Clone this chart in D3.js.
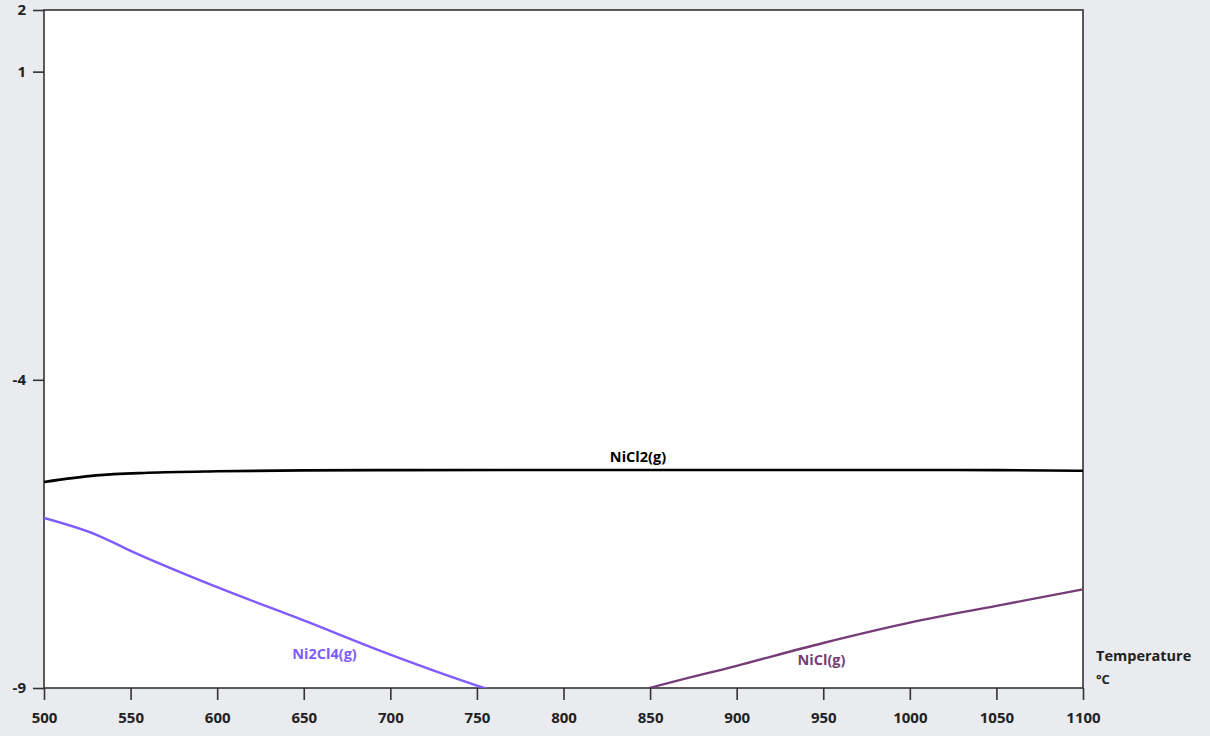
<!DOCTYPE html>
<html>
<head>
<meta charset="utf-8">
<script src="https://cdn.jsdelivr.net/npm/d3@7"></script>
<style>
  html, body { margin: 0; padding: 0; background: #e9ebef; }
  svg { display: block; font-family: "Open Sans", "Noto Sans", sans-serif; }
</style>
</head>
<body>
<svg id="chart" width="1210" height="736"></svg>
<script>
// Temperature grid (°C) and log10 partial pressures for each gas species
const nicl2Temp   = [500, 530, 560, 600, 650, 700, 800, 900, 1000, 1050, 1100];
const nicl2Value  = [-5.657, -5.55, -5.508, -5.484, -5.47, -5.465, -5.462, -5.462, -5.463, -5.465, -5.476];

const ni2cl4Temp  = [500, 530, 550, 600, 650, 700, 750, 760];
const ni2cl4Value = [-6.24, -6.51, -6.774, -7.364, -7.903, -8.459, -8.96, -9.05];

const niclTemp    = [845, 850, 900, 950, 1000, 1050, 1100];
const niclValue   = [-9.04, -9.0, -8.64, -8.27, -7.94, -7.667, -7.40];

const xTicks = [500, 550, 600, 650, 700, 750, 800, 850, 900, 950, 1000, 1050, 1100];
const yTicks = [2, 1, -4, -9];

const series = [
  { name: "NiCl2(g)",  temp: nicl2Temp,  value: nicl2Value,  color: "#000000", labelT: 843, labelV: -5.333, width: 2.6 },
  { name: "Ni2Cl4(g)", temp: ni2cl4Temp, value: ni2cl4Value, color: "#7f5cff", labelT: 662, labelV: -8.536, width: 2.4 },
  { name: "NiCl(g)",   temp: niclTemp,   value: niclValue,   color: "#763c78", labelT: 949, labelV: -8.633, width: 2.4 }
];

const svg = d3.select("#chart");
const plot = { left: 44, right: 1083, top: 10, bottom: 688 };

const x = d3.scaleLinear().domain([500, 1100]).range([plot.left, plot.right]);
const y = d3.scaleLinear().domain([-9, 2]).range([plot.bottom, plot.top]);

// plot background
svg.append("rect")
  .attr("x", plot.left).attr("y", plot.top)
  .attr("width", plot.right - plot.left).attr("height", plot.bottom - plot.top)
  .attr("fill", "#ffffff");

svg.append("defs").append("clipPath").attr("id", "plotClip")
  .append("rect")
  .attr("x", plot.left).attr("y", plot.top)
  .attr("width", plot.right - plot.left).attr("height", plot.bottom - plot.top);

// axes (plain hyphen for negatives)
const yAxis = svg.append("g")
  .attr("transform", `translate(${plot.left},0)`)
  .call(d3.axisLeft(y).tickValues(yTicks).tickSize(11).tickPadding(7).tickFormat(d => String(d)));
const xAxis = svg.append("g")
  .attr("transform", `translate(0,${plot.bottom})`)
  .call(d3.axisBottom(x).tickValues(xTicks).tickSize(12).tickPadding(12).tickFormat(d => String(d)));

[xAxis, yAxis].forEach(g => {
  g.select(".domain").remove();
  g.selectAll(".tick line").attr("stroke", "#333").attr("stroke-width", 1.6);
  g.selectAll(".tick text")
    .attr("fill", "#222")
    .style("font-size", "15px")
    .style("font-weight", "700")
    .style("font-family", "\"Open Sans\", \"Noto Sans\", sans-serif");
});

// plot frame
svg.append("rect")
  .attr("x", plot.left).attr("y", plot.top)
  .attr("width", plot.right - plot.left).attr("height", plot.bottom - plot.top)
  .attr("fill", "none").attr("stroke", "#333").attr("stroke-width", 1.6);

// species curves
const line = d3.line().x(d => x(d[0])).y(d => y(d[1])).curve(d3.curveMonotoneX);
const curves = svg.append("g").attr("clip-path", "url(#plotClip)");
series.forEach(s => {
  curves.append("path")
    .datum(s.temp.map((t, i) => [t, s.value[i]]))
    .attr("d", line)
    .attr("fill", "none")
    .attr("stroke", s.color)
    .attr("stroke-width", s.width)
    .attr("stroke-linejoin", "round");
});

// curve labels
series.forEach(s => {
  svg.append("text")
    .attr("x", x(s.labelT)).attr("y", y(s.labelV))
    .attr("text-anchor", "middle")
    .attr("fill", s.color)
    .style("font-size", "14.5px")
    .style("font-weight", "700")
    .text(s.name);
});

// x axis title
svg.append("text")
  .attr("x", 1096).attr("y", 661)
  .attr("fill", "#222")
  .style("font-size", "14.5px").style("font-weight", "700")
  .text("Temperature");
svg.append("text")
  .attr("x", 1096).attr("y", 684)
  .attr("fill", "#222")
  .style("font-size", "13px").style("font-weight", "700")
  .text("°C");
</script>
</body>
</html>
